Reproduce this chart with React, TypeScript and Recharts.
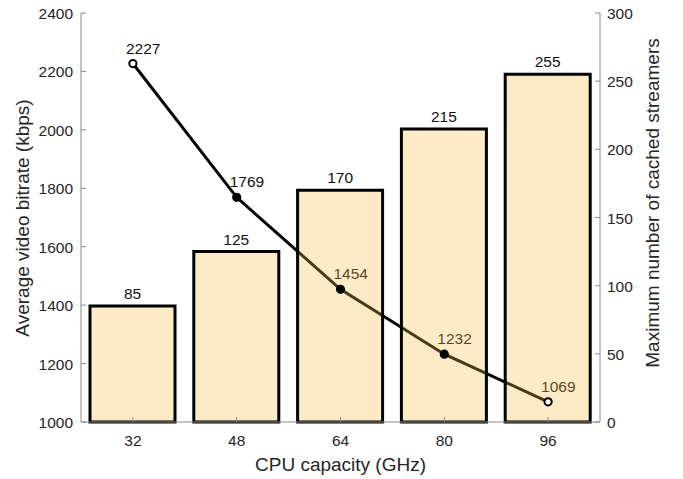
import React from "react";
import {
  ComposedChart,
  Bar,
  Line,
  XAxis,
  YAxis,
  LabelList,
  Label,
} from "recharts";

const categories = ["32", "48", "64", "80", "96"];
const bitrate = [2227, 1769, 1454, 1232, 1069];
const streamers = [85, 125, 170, 215, 255];
const leftTicks = [1000, 1200, 1400, 1600, 1800, 2000, 2200, 2400];
const rightTicks = [0, 50, 100, 150, 200, 250, 300];

const data = categories.map((cpu, i) => ({
  cpu,
  bitrate: bitrate[i],
  streamers: streamers[i],
}));

const FONT = "'Liberation Sans', Arial, Helvetica, sans-serif";
const AXIS = "#8a8a8a";
const TEXT = "#262626";
const TICK_FS = 15.5;
const TITLE_FS = 19;

function BottomTick({ x, y, payload }: any) {
  return (
    <g>
      <line x1={x} x2={x} y1={y} y2={y - 5} stroke={AXIS} />
      <text x={x} y={y + 24} textAnchor="middle" fontSize={TICK_FS} fill={TEXT} fontFamily={FONT}>
        {payload.value}
      </text>
    </g>
  );
}

function TopTick({ x, y }: any) {
  return <line x1={x} x2={x} y1={y} y2={y + 5} stroke={AXIS} />;
}

function LeftTick({ x, y, payload }: any) {
  return (
    <g>
      <line x1={x} x2={x + 5} y1={y} y2={y} stroke={AXIS} />
      <text x={x - 8} y={y + 6} textAnchor="end" fontSize={TICK_FS} fill={TEXT} fontFamily={FONT}>
        {payload.value}
      </text>
    </g>
  );
}

function RightTick({ x, y, payload }: any) {
  return (
    <g>
      <line x1={x} x2={x - 5} y1={y} y2={y} stroke={AXIS} />
      <text x={x + 7} y={y + 6} textAnchor="start" fontSize={TICK_FS} fill={TEXT} fontFamily={FONT}>
        {payload.value}
      </text>
    </g>
  );
}

function Dot({ cx, cy, index }: any) {
  const open = index === 0 || index === categories.length - 1;
  return (
    <circle cx={cx} cy={cy} r={3.6} stroke="#000" strokeWidth={2} fill={open ? "#fff" : "#000"} />
  );
}

function LineValue({ x, y, value }: any) {
  return (
    <text x={x - 7} y={y - 10} textAnchor="start" fontSize={TICK_FS} fill="#111" fontFamily={FONT}>
      {value}
    </text>
  );
}

function VTitle({ cx, cy, text }: { cx: number; cy: number; text: string }) {
  return (
    <text
      x={cx}
      y={cy}
      transform={`rotate(-90, ${cx}, ${cy})`}
      textAnchor="middle"
      dominantBaseline="central"
      fontSize={TITLE_FS}
      fill={TEXT}
      fontFamily={FONT}
    >
      {text}
    </text>
  );
}

export default function App() {
  return (
    <div style={{ position: "absolute", left: 0, top: 0, background: "#fff" }}>
      <ComposedChart
        width={683}
        height={479}
        data={data}
        margin={{ top: 13, right: 23, bottom: 27, left: 21 }}
      >
        <XAxis
          xAxisId="bottom"
          dataKey="cpu"
          height={30}
          tickSize={0}
          tickMargin={0}
          tickLine={false}
          axisLine={{ stroke: AXIS }}
          tick={<BottomTick />}
        >
          <Label
            content={({ viewBox }: any) => (
              <text
                x={viewBox.x + viewBox.width / 2}
                y={viewBox.y + 49}
                textAnchor="middle"
                fontSize={TITLE_FS}
                fill={TEXT}
                fontFamily={FONT}
              >
                CPU capacity (GHz)
              </text>
            )}
          />
        </XAxis>
        <XAxis
          xAxisId="top"
          dataKey="cpu"
          orientation="top"
          height={0}
          tickSize={0}
          tickMargin={0}
          tickLine={false}
          axisLine={{ stroke: AXIS }}
          tick={<TopTick />}
        />
        <YAxis
          yAxisId="left"
          domain={[1000, 2400]}
          ticks={leftTicks}
          width={60}
          tickSize={0}
          tickMargin={0}
          tickLine={false}
          axisLine={{ stroke: AXIS }}
          tick={<LeftTick />}
          interval={0}
        >
          <Label content={() => <VTitle cx={22} cy={218} text="Average video bitrate (kbps)" />} />
        </YAxis>
        <YAxis
          yAxisId="right"
          orientation="right"
          domain={[0, 300]}
          ticks={rightTicks}
          width={60}
          tickSize={0}
          tickMargin={0}
          tickLine={false}
          axisLine={{ stroke: AXIS }}
          tick={<RightTick />}
          interval={0}
        >
          <Label content={() => <VTitle cx={652} cy={203} text="Maximum number of cached streamers" />} />
        </YAxis>
        <Line
          xAxisId="bottom"
          yAxisId="left"
          dataKey="bitrate"
          stroke="#000"
          strokeWidth={3}
          dot={<Dot />}
          activeDot={false}
          isAnimationActive={false}
          zIndex={100}
        >
          <LabelList dataKey="bitrate" content={<LineValue />} zIndex={100} />
        </Line>
        <Bar
          xAxisId="bottom"
          yAxisId="right"
          dataKey="streamers"
          barSize={85}
          fill="#F8BC48"
          fillOpacity={0.3}
          stroke="#000"
          strokeWidth={3}
          isAnimationActive={false}
          zIndex={200}
        >
          <LabelList dataKey="streamers" position="top" offset={7} fontSize={TICK_FS} fill="#111" fontFamily={FONT} />
        </Bar>
      </ComposedChart>
    </div>
  );
}
